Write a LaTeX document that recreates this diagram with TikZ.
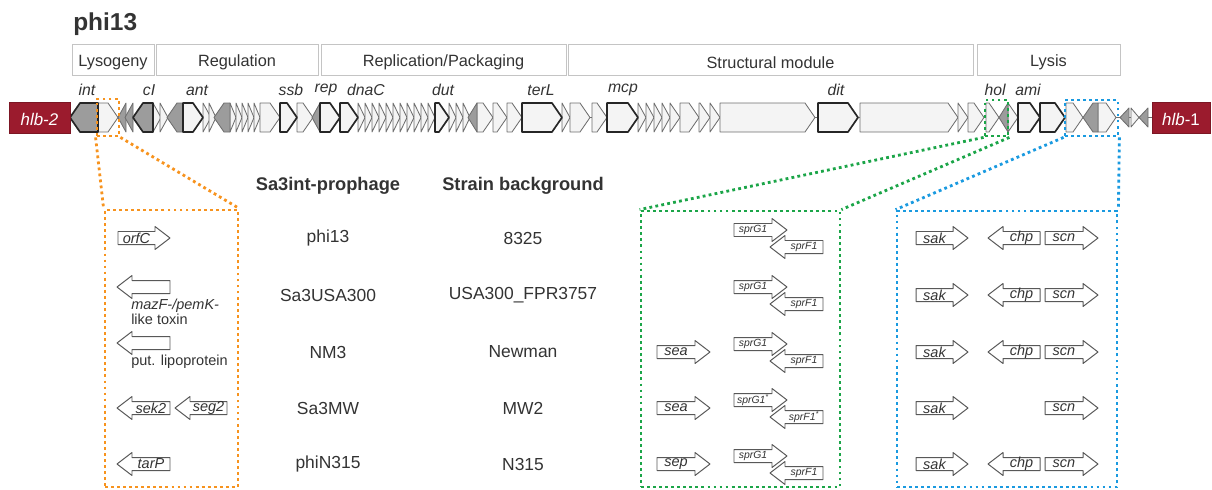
\documentclass[tikz,border=0pt]{standalone}
\usepackage{fontspec}
\setmainfont{Liberation Sans}
\usetikzlibrary{fit}

\definecolor{hlbred}{HTML}{9B1B2D}
\definecolor{genelight}{HTML}{F4F4F4}
\definecolor{genedark}{HTML}{9C9C9C}
\definecolor{geneline}{HTML}{6E6E6E}
\definecolor{modline}{HTML}{C4C4C4}
\definecolor{txt}{HTML}{333333}
\definecolor{zorange}{HTML}{F7931E}
\definecolor{zgreen}{HTML}{1BA548}
\definecolor{zblue}{HTML}{1A9AE0}

\newcommand\genefwd[3][]{\draw[gene,#1] (#2,103) -- ({max(#2,#3-10)},103) -- (#3,117.5) -- ({max(#2,#3-10)},132) -- (#2,132) -- cycle;}
\newcommand\generev[3][]{\draw[gene,rev,#1] (#3,103) -- ({min(#3,#2+10)},103) -- (#2,117.5) -- ({min(#3,#2+10)},132) -- (#3,132) -- cycle;}
\newcommand\rgene[6][boxlabel]{%
    \draw[box] (#3,#5-6.5) -- (#4-15,#5-6.5) -- (#4-15,#5-11.5) -- (#4,#5) -- (#4-15,#5+11.5) -- (#4-15,#5+6.5) -- (#3,#5+6.5) -- cycle;
    \node[#1] (#2) at ({(#3+#4-15)/2},#5) {#6};}
\newcommand\lgene[6][boxlabel]{%
    \draw[box] (#4,#5-6.5) -- (#3+15,#5-6.5) -- (#3+15,#5-11.5) -- (#3,#5) -- (#3+15,#5+11.5) -- (#3+15,#5+6.5) -- (#4,#5+6.5) -- cycle;
    \node[#1] (#2) at ({(#3+15+#4)/2},#5) {#6};}

\tikzset{
    every node/.style={text=txt},
    module/.style={draw=modline, line width=0.7pt, inner sep=0pt},
    modtext/.style={font=\fontsize{11.6}{13}\selectfont, text=txt, yshift=-2pt},
    gene/.style={draw=geneline, fill=genelight, line width=0.6pt, line join=round},
    rev/.style={fill=genedark},
    core/.style={draw=black!85, line width=1.2pt},
    hlb/.style={fill=hlbred, draw=hlbred!80!black, line width=0.6pt, inner sep=0pt},
    hlbtext/.style={text=white, font=\fontsize{12}{14}\selectfont\itshape, yshift=-1.2pt},
    genename/.style={font=\fontsize{11.2}{13}\selectfont\itshape},
    head/.style={font=\fontsize{13}{15}\selectfont\bfseries},
    cell/.style={font=\fontsize{12.4}{14}\selectfont},
    box/.style={draw=geneline!80!black, fill=white, line width=0.7pt, line join=round},
    boxlabel/.style={font=\fontsize{10.3}{12}\selectfont\itshape, inner sep=0pt},
    smalllabel/.style={font=\fontsize{7.4}{8}\selectfont\itshape, inner sep=0pt},
    note/.style={font=\fontsize{10.3}{10.8}\selectfont, align=left, inner sep=0pt},
    zoom/.style={line width=2pt, dash pattern=on 2pt off 2.3pt, inner sep=0pt},
}

\begin{document}
\begin{tikzpicture}[x=0.025cm, y=-0.025cm]
    \useasboundingbox (0,0) rectangle (1212,489);

    \node[font=\fontsize{17.4}{20}\selectfont\bfseries, anchor=west, inner sep=0pt] (title) at (73,24) {phi13};

    \node[module, fit={(72,44) (154,75)}, label={[modtext]center:Lysogeny}]                (lysogeny)    {};
    \node[module, fit={(156,44) (318,75)}, label={[modtext]center:Regulation}]             (regulation)  {};
    \node[module, fit={(321,44) (566,75)}, label={[modtext]center:Replication/Packaging}]  (replication) {};
    \node[module, fit={(568,44) (973,75)}, label={[modtext]center:Structural module}]      (structural)  {};
    \node[module, fit={(977,44) (1120,75)}, label={[modtext]center:Lysis}]                 (lysis)       {};

    \node[genename] (int)  at (87,90)   {int};
    \node[genename] (cI)   at (149,90)  {cI};
    \node[genename] (ant)  at (197,90)  {ant};
    \node[genename] (ssb)  at (291,90)  {ssb};
    \node[genename] (rep)  at (326,90)  {rep};
    \node[genename] (dnaC) at (366,90)  {dnaC};
    \node[genename] (dut)  at (443,90)  {dut};
    \node[genename] (terL) at (541,90)  {terL};
    \node[genename] (mcp)  at (623,90)  {mcp};
    \node[genename] (dit)  at (836,90)  {dit};
    \node[genename] (hol)  at (995,90)  {hol};
    \node[genename] (ami)  at (1028,90) {ami};

    \draw[geneline, line width=0.6pt] (70,117.5) -- (1152,117.5);
    \foreach \a/\b in {98/118, 153/161, 160/168, 203/211, 209/216, 230/236, 236/242, 242/248, 248/254, 254/260,
        260/280, 297/313, 358/365, 365/372, 372/379, 379/386, 386/393, 393/400, 400/407, 407/414, 414/421,
        421/428, 428/435, 449/456, 456/463, 463/470, 477/493, 493/507, 507/522, 562/570, 570/590, 592/607,
        638/646, 646/654, 654/662, 662/670, 670/680, 680/699, 699/710, 710/720, 720/815, 860/958, 958/968,
        968/984, 986/999, 1008/1018, 1066/1083, 1098/1116} {
        \genefwd{\a}{\b}
    }
    \foreach \a/\b in {118/126, 125/133, 167/183, 214/230, 312/320, 468/477, 999/1008, 1083/1098} {
        \generev{\a}{\b}
    }
    \foreach \a/\b in {183/203, 280/297, 320/340, 340/358, 435/449, 522/562, 607/638, 818/858, 1018/1040, 1040/1065} {
        \genefwd[core]{\a}{\b}
    }
    \foreach \a/\b in {70/98, 133/153} {
        \generev[core]{\a}{\b}
    }
    \draw[gene, rev] (1129,108) -- (1129,127) -- (1120,117.5) -- cycle;
    \draw[gene] (1131,108) -- (1131,127) -- (1139,117.5) -- cycle;
    \draw[gene, rev] (1148,108) -- (1148,127) -- (1139,117.5) -- cycle;

    \node[hlb, fit={(9,102) (70,133)}, label={[hlbtext]center:hlb-2}]               (hlb2) {};
    \node[hlb, fit={(1152,102) (1210,133)}, label={[hlbtext]center:hlb\upshape-1}]  (hlb1) {};

    \node[zoom, draw=zorange, fit={(97,99) (119,136)}]   (osmall) {};
    \node[zoom, draw=zorange, fit={(105,210) (238,487)}] (obig)   {};
    \node[zoom, draw=zgreen, fit={(985,100) (1008,136)}] (gsmall) {};
    \node[zoom, draw=zgreen, fit={(641,211) (840,487)}]  (gbig)   {};
    \node[zoom, draw=zblue, fit={(1065,100) (1118,136)}] (bsmall) {};
    \node[zoom, draw=zblue, fit={(897,211) (1117,487)}]  (bbig)   {};
    \draw[zoom, zorange] (osmall.south west) -- (obig.north west) (osmall.south east) -- (obig.north east);
    \draw[zoom, zgreen] (gsmall.south west) -- (gbig.north west) (gsmall.south east) -- (gbig.north east);
    \draw[zoom, zblue] (bsmall.south west) -- (bbig.north west) (bsmall.south east) -- (bbig.north east);

    \node[head] (colphage) at (328,186) {Sa3int-prophage};
    \node[head] (colstrain) at (523,186) {Strain background};
    \foreach \y/\phage/\strain in {238/phi13/8325, 295/Sa3USA300/USA300\_FPR3757, 352/NM3/Newman, 408/Sa3MW/MW2, 464/phiN315/N315} {
        \node[cell] (phage\y) at (328,\y) {\phage};
        \node[cell] (strain\y) at (523,\y) {\strain};
    }

    \rgene{orfC}{118}{170}{238}{orfC}
    \lgene{mazF}{117}{170}{287}{}
    \node[note, anchor=north west] (mazFtxt) at (131,299) {\textit{mazF-/pemK-}\\like toxin};
    \lgene{lipo}{117}{170}{343}{}
    \node[note, anchor=west] (lipotxt) at (131,362) {put. lipoprotein};
    \lgene{sek2}{117}{170}{408}{sek2}
    \lgene{seg2}{175}{227}{408}{seg2}
    \lgene{tarP}{117}{170}{464}{tarP}

    \foreach \y in {238,295,352,464} {
        \rgene[smalllabel]{sprG\y}{734}{787}{\y-8}{sprG1}
        \lgene[smalllabel]{sprF\y}{770}{823}{\y+9}{sprF1}
    }
    \rgene[smalllabel]{sprG408}{734}{787}{400}{sprG1\textsuperscript{*}}
    \lgene[smalllabel]{sprF408}{770}{823}{417}{sprF1\textsuperscript{*}}
    \rgene{sea352}{657}{710}{352}{sea}
    \rgene{sea408}{657}{710}{408}{sea}
    \rgene{sep464}{657}{710}{464}{sep}

    \foreach \y in {238,295,352,408,464} {
        \rgene{sak\y}{916}{968}{\y}{sak}
        \rgene{scn\y}{1045}{1098}{\y}{scn}
    }
    \foreach \y in {238,295,352,464} {
        \lgene{chp\y}{988}{1040}{\y}{chp}
    }
\end{tikzpicture}
\end{document}
